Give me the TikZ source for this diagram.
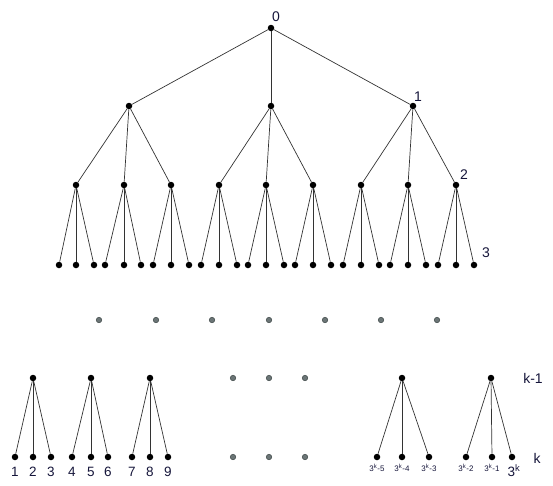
\documentclass[tikz,border=0pt]{standalone}
\usepackage{fontspec}
\setmainfont{Liberation Sans}
\definecolor{gfill}{HTML}{6B7576}
\definecolor{gline}{HTML}{3C4545}
\definecolor{txt}{HTML}{15153A}
\begin{document}
\begin{tikzpicture}[x=1pt,y=-1pt,
  dot/.style={circle,fill=black,inner sep=0pt,minimum size=6.5pt},
  gdot/.style={circle,fill=gfill,draw=gline,line width=0.5pt,inner sep=0pt,minimum size=5.5pt},
  edge/.style={draw=black!80,line width=0.7pt},
  lvl/.style={font=\fontsize{14}{14}\selectfont,text=txt,inner sep=0pt},
  num/.style={font=\fontsize{13.5}{14}\selectfont,text=txt,inner sep=0pt},
  small/.style={font=\fontsize{8}{8}\selectfont,text=txt,inner sep=0pt}]
\useasboundingbox (0,0) rectangle (553,485);
% upper tree
\node[dot] (r) at (271,28) {};
\foreach \x [count=\i] in {129,271,413} \node[dot] (a\i) at (\x,106) {};
\foreach \i in {1,2,3} \draw[edge] (r) -- (a\i);
\foreach \p/\xa/\xb/\xc [count=\i] in {76/59/76/94,124/105/124/141,171/153/171/189,
   219/201/219/237,266/248/266/284,313/295/313/331,361/343/361/379,408/390/408/426,456/438/456/474} {
  \pgfmathtruncatemacro{\j}{(\i-1)/3+1}
  \node[dot] (b\i) at (\p,185) {};
  \draw[edge] (a\j) -- (b\i);
  \foreach \x [count=\k] in {\xa,\xb,\xc} {
    \node[dot] (c\i-\k) at (\x,265) {};
    \draw[edge] (b\i) -- (c\i-\k);
  }
}
\node[lvl] (l0) at (276,17) {0};
\node[lvl] (l1) at (418,97) {1};
\node[lvl] (l2) at (464,175) {2};
\node[lvl] (l3) at (486,253) {3};
% gray dots row
\foreach \x [count=\i] in {99,156,212,269,325,381,437} \node[gdot] (g\i) at (\x,320) {};
% gray grid
\foreach \x [count=\i] in {233,269,305} {
  \node[gdot] (gu\i) at (\x,378) {};
  \node[gdot] (gd\i) at (\x,457) {};
}
% bottom trees
\foreach \p/\xa/\xb/\xc [count=\i] in {33/15/33/51,91/72/91/108,150/132/150/168,402/377/402/429,491/466/492/512} {
  \node[dot] (p\i) at (\p,378) {};
  \foreach \x [count=\k] in {\xa,\xb,\xc} {
    \node[dot] (q\i-\k) at (\x,457) {};
    \draw[edge] (p\i) -- (q\i-\k);
  }
}
\foreach \x/\t in {15/1,33/2,51/3,72/4,91/5,108/6,132/7,150/8,168/9}
  \node[num] (n\t) at (\x,472) {\t};
\node[small] (s1) at (377,468) {3\textsuperscript{k}-5};
\node[small] (s2) at (402,468) {3\textsuperscript{k}-4};
\node[small] (s3) at (429,468) {3\textsuperscript{k}-3};
\node[small] (s4) at (466,468) {3\textsuperscript{k}-2};
\node[small] (s5) at (492,468) {3\textsuperscript{k}-1};
\node[num] (s6) at (514,471) {3\textsuperscript{k}};
\node[lvl] (lk1) at (533,378) {k-1};
\node[lvl] (lk) at (537,458) {k};
\end{tikzpicture}
\end{document}
